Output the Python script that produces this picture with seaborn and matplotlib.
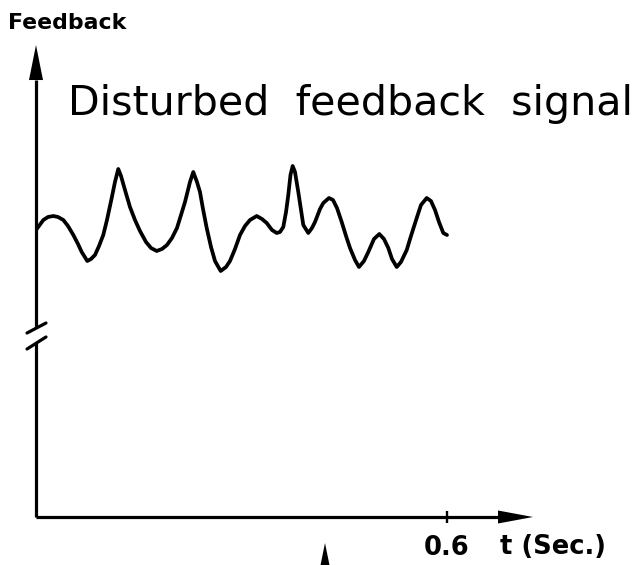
import matplotlib
matplotlib.use("Agg")
import matplotlib.pyplot as plt
import seaborn as sns

# Sampled feedback trace: time (s) and feedback level (arbitrary units)
time_s = [
    0.0000, 0.0107, 0.0175, 0.0253, 0.0321, 0.0399, 0.0467, 0.0545, 0.0613, 0.0667,
    0.0749, 0.0803, 0.0861, 0.0920, 0.0982, 0.1036, 0.1105, 0.1153, 0.1201, 0.1241,
    0.1299, 0.1372, 0.1445, 0.1518, 0.1606, 0.1679, 0.1762, 0.1839, 0.1912, 0.1985,
    0.2058, 0.2117, 0.2175, 0.2248, 0.2296, 0.2350, 0.2394, 0.2438, 0.2492, 0.2555,
    0.2613, 0.2696, 0.2774, 0.2832, 0.2905, 0.2978, 0.3051, 0.3124, 0.3222, 0.3299,
    0.3368, 0.3445, 0.3514, 0.3562, 0.3610, 0.3650, 0.3683, 0.3715, 0.3747, 0.3781,
    0.3829, 0.3869, 0.3902, 0.3975, 0.4029, 0.4073, 0.4146, 0.4194, 0.4277, 0.4336,
    0.4394, 0.4463, 0.4526, 0.4584, 0.4657, 0.4715, 0.4788, 0.4851, 0.4934, 0.5012,
    0.5080, 0.5143, 0.5197, 0.5266, 0.5328, 0.5412, 0.5474, 0.5558, 0.5620, 0.5704,
    0.5766, 0.5825, 0.5883, 0.5946, 0.6000,
]
feedback = [
    2.87, 2.97, 3.00, 3.01, 3.00, 2.97, 2.91, 2.82, 2.73, 2.65,
    2.56, 2.58, 2.62, 2.71, 2.82, 2.97, 3.19, 3.35, 3.48, 3.41,
    3.27, 3.10, 2.97, 2.86, 2.75, 2.69, 2.66, 2.68, 2.72, 2.79,
    2.89, 3.02, 3.15, 3.35, 3.45, 3.35, 3.25, 3.08, 2.89, 2.70,
    2.56, 2.46, 2.50, 2.56, 2.68, 2.82, 2.91, 2.97, 3.01, 2.98,
    2.94, 2.87, 2.84, 2.85, 2.90, 3.05, 3.22, 3.42, 3.51, 3.45,
    3.25, 3.07, 2.92, 2.84, 2.89, 2.95, 3.08, 3.14, 3.19, 3.17,
    3.09, 2.95, 2.81, 2.69, 2.57, 2.50, 2.56, 2.65, 2.78, 2.83,
    2.78, 2.69, 2.58, 2.50, 2.55, 2.67, 2.81, 2.99, 3.12, 3.19,
    3.16, 3.07, 2.95, 2.84, 2.82,
]

x_ticks = [0.6]
x_tick_labels = ["0.6"]
title_text = "Disturbed  feedback  signal"
x_label = "t (Sec.)"
y_label = "Feedback"

sns.set_theme(style="white")
plt.rcParams["font.family"] = ["DejaVu Sans"]

W, H = 636, 565
fig = plt.figure(figsize=(W / 100, H / 100), dpi=100)
fig.patch.set_facecolor("white")
# plot frame: origin at (36, 517) px, y arrow tip at 45 px, x arrow tip at 533 px
ax = fig.add_axes([36 / W, 48 / H, 497 / W, 472 / H])
ax.set_facecolor("white")
ax.set_xlim(0, 497 / 685)
ax.set_ylim(0, 4.72)

sns.lineplot(x=time_s, y=feedback, color="black", linewidth=2.7, ax=ax,
             solid_joinstyle="round", solid_capstyle="round")

for s in ax.spines.values():
    s.set_visible(False)

K = "black"
ta = ax.transAxes
lw_axis = 2.3

# vertical axis with a break
ax.plot([0, 0], [0.4004, 0.9258], color=K, lw=lw_axis, transform=ta, clip_on=False,
        solid_capstyle="butt")
ax.plot([0, 0], [0.0, 0.3686], color=K, lw=lw_axis, transform=ta, clip_on=False,
        solid_capstyle="butt")
ax.plot([-0.0181, 0.0201], [0.3898, 0.4110], color=K, lw=lw_axis, transform=ta,
        clip_on=False)
ax.plot([-0.0181, 0.0201], [0.3559, 0.3814], color=K, lw=lw_axis, transform=ta,
        clip_on=False)
ax.fill([-0.0141, 0.0141, 0.0], [0.9258, 0.9258, 1.0], color=K, transform=ta,
        clip_on=False, lw=0)

# horizontal axis with arrow
ax.plot([0, 0.9296], [0, 0], color=K, lw=lw_axis, transform=ta, clip_on=False,
        solid_capstyle="butt")
ax.fill([0.9296, 0.9296, 1.0], [0.01377, -0.01377, 0.0], color=K, transform=ta,
        clip_on=False, lw=0)

# arrow head entering from below
ax.fill([0.5684, 0.5946, 0.5815], [-0.1229, -0.1229, -0.0551], color=K,
        transform=ta, clip_on=False, lw=0)

ax.set_xticks(x_ticks, labels=x_tick_labels)
ax.set_yticks([])
ax.tick_params(axis="x", direction="inout", length=8.64, width=1.7, color=K,
               pad=8.5, labelsize=18.5, bottom=True, labelcolor=K)
for lab in ax.get_xticklabels():
    lab.set_fontweight("bold")

ax.set_xlabel(x_label, fontsize=18.5, fontweight="bold", color=K)
ax.xaxis.set_label_coords(1.0402, -0.0784)
ax.xaxis.label.set_va("baseline")
ax.xaxis.label.set_ha("center")

ax.set_ylabel(y_label, fontsize=15.8, fontweight="bold", color=K, rotation=0)
ax.yaxis.set_label_coords(0.0624, 1.0339)
ax.yaxis.label.set_va("baseline")
ax.yaxis.label.set_ha("center")

ax.text(0.0644, 0.8517, title_text, transform=ta, fontsize=29.6, color=K,
        ha="left", va="baseline")

fig.savefig("out.png", dpi=100, facecolor="white")
